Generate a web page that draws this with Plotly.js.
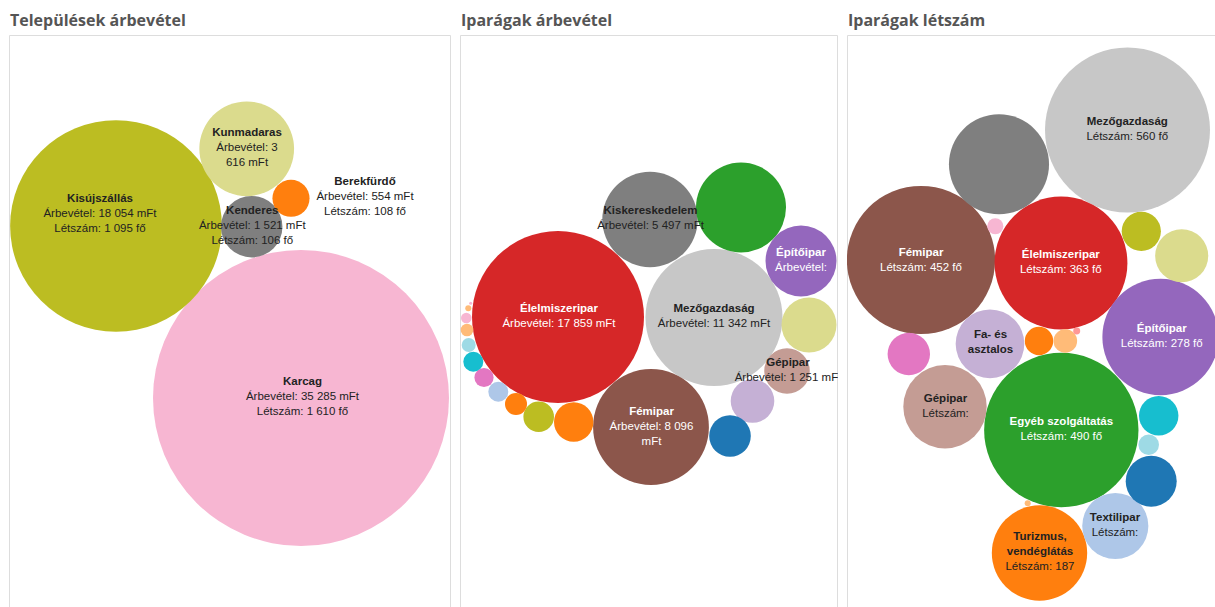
<!DOCTYPE html>
<html>
<head>
<meta charset="utf-8">
<script src="https://cdn.plot.ly/plotly-3.0.1.min.js"></script>
<style>
html,body{margin:0;padding:0;background:#fff;}
#chart{width:1215px;height:607px;}
</style>
</head>
<body>
<div id="chart"></div>
<script>
// ---------- Panel 1: Települések árbevétel (mFt) ----------
const townNames  = ['Karcag','Kisújszállás','Kunmadaras','Kenderes','Berekfürdő'];
const townRevenue = [35285, 18054, 3616, 1521, 554];
const townStaff   = [1610, 1095, null, 106, 108];
const townX = [301, 116, 246.7, 251.7, 291];
const townY = [398, 226, 148.8, 226.7, 198.3];
const townColors = ['#f7b6d2','#bcbd22','#dbdb8d','#7f7f7f','#ff7f0e'];
const townLabels = [
  '<b>Karcag</b><br>Árbevétel: 35 285 mFt<br>Létszám: 1 610 fő',
  '<b>Kisújszállás</b><br>Árbevétel: 18 054 mFt<br>Létszám: 1 095 fő',
  '<b>Kunmadaras</b><br>Árbevétel: 3<br>616 mFt',
  '<b>Kenderes</b><br>Árbevétel: 1 521 mFt<br>Létszám: 106 fő',
  '<b>Berekfürdő</b><br>Árbevétel: 554 mFt<br>Létszám: 108 fő'
];
const townLabelX = [302.5, 100, 247, 252.3, 365];
const townLabelY = [397.5, 214.3, 148, 226, 197.3];
const townLabelColors = ['#222','#222','#222','#222','#222'];

// ---------- Panel 2: Iparágak árbevétel (mFt) ----------
const indRevNames = ['Élelmiszeripar','Mezőgazdaság','Fémipar','Kiskereskedelem','Egyéb szolgáltatás','Építőipar','','Gépipar','Fa- és asztalos','','','','','Textilipar','','','','','','',''];
const indRevenue = [17859, 11342, 8096, 5497, 4890, 3043, 1826, 1251, 1148, 1044, 937, 565, 292, 241, 223, 241, 118, 96, 68, 22, 5.5];
const indRevX = [558, 714, 651, 650, 741, 801, 809, 787, 752.5, 730, 573.7, 538.7, 516, 498.3, 484, 473.3, 468.7, 467, 466.3, 468.3, 470.7];
const indRevY = [317, 317.5, 427, 219.5, 207.5, 261, 325, 371, 401, 436, 422, 416.7, 404, 391.7, 377.5, 361.7, 345, 330, 318, 308.3, 303.3];
const indRevColors = ['#d62728','#c7c7c7','#8c564b','#7f7f7f','#2ca02c','#9467bd','#dbdb8d','#c49c94','#c5b0d5','#1f77b4','#ff7f0e','#bcbd22','#ff7f0e','#aec7e8','#e377c2','#17becf','#9edae5','#ffbb78','#f7b6d2','#ffbb78','#f7b6d2'];
const indRevLabels = [
  '<b>Élelmiszeripar</b><br>Árbevétel: 17 859 mFt',
  '<b>Mezőgazdaság</b><br>Árbevétel: 11 342 mFt',
  '<b>Fémipar</b><br>Árbevétel: 8 096<br>mFt',
  '<b>Kiskereskedelem</b><br>Árbevétel: 5 497 mFt',
  '<b>Építőipar</b><br>Árbevétel:',
  '<b>Gépipar</b><br>Árbevétel: 1 251 mFt'
];
const indRevLabelX = [559, 714, 651.5, 650.5, 801, 788];
const indRevLabelY = [316.7, 317, 427, 218.5, 261, 370.5];
const indRevLabelColors = ['#fff','#222','#fff','#222','#fff','#222'];

// ---------- Panel 3: Iparágak létszám (fő) ----------
const indStaffNames = ['Mezőgazdaság','Egyéb szolgáltatás','Fémipar','Élelmiszeripar','Építőipar','Kiskereskedelem','Turizmus, vendéglátás','Gépipar','Fa- és asztalos','Textilipar','','','','','','','','','','',''];
const indStaff = [560, 490, 452, 363, 278, 206, 187, 143, 97, 90, 58, 53.5, 37, 32, 31.6, 16.6, 11.5, 8.7, 5.3, 1.0, 0.75];
const indStaffX = [1127.5, 1061.3, 921, 1061, 1160.5, 999, 1039.5, 945, 990, 1115.3, 1181.7, 1151.2, 908.8, 1158.7, 1141.3, 1039, 1065.3, 1148.7, 995.3, 1076.7, 1027.7];
const indStaffY = [130, 430, 260, 263, 337, 164.3, 553, 406.7, 343.8, 526, 255.8, 481.2, 354, 415.7, 231.3, 341, 341, 444.7, 226.3, 331, 503.3];
const indStaffColors = ['#c7c7c7','#2ca02c','#8c564b','#d62728','#9467bd','#7f7f7f','#ff7f0e','#c49c94','#c5b0d5','#aec7e8','#dbdb8d','#1f77b4','#e377c2','#17becf','#bcbd22','#ff7f0e','#ffbb78','#9edae5','#f7b6d2','#ff9896','#ffbb78'];
const indStaffLabels = [
  '<b>Mezőgazdaság</b><br>Létszám: 560 fő',
  '<b>Egyéb szolgáltatás</b><br>Létszám: 490 fő',
  '<b>Fémipar</b><br>Létszám: 452 fő',
  '<b>Élelmiszeripar</b><br>Létszám: 363 fő',
  '<b>Építőipar</b><br>Létszám: 278 fő',
  '<b>Turizmus,<br>vendéglátás</b><br>Létszám: 187',
  '<b>Gépipar</b><br>Létszám:',
  '<b>Fa- és<br>asztalos</b>',
  '<b>Textilipar</b><br>Létszám:'
];
const indStaffLabelX = [1127.3, 1061.3, 921, 1060.8, 1161.7, 1040, 945.5, 990.5, 1115];
const indStaffLabelY = [130, 429.7, 260.3, 263, 337, 552, 406.7, 343, 525.5];
const indStaffLabelColors = ['#222','#fff','#fff','#fff','#fff','#222','#222','#222','#222'];

const panelTitles = ['Települések árbevétel','Iparágak árbevétel','Iparágak létszám'];

// ---------- drawing ----------
const W = 1215, H = 607;
const boxTop = 35;
const boxes = [[9, 451], [460, 838], [847, 1215]];
const maxRadius = [148, 86, 82.5];
const labelFont = 'Liberation Sans, Arial, sans-serif';

function diam(vals, rmax) {
  const vmax = Math.max.apply(null, vals);
  return vals.map(v => 2 * rmax * Math.sqrt(v / vmax));
}

function bubbleTrace(names, vals, xs, ys, cols, rmax, ax) {
  return {
    type: 'scatter', mode: 'markers', x: xs, y: ys, text: names,
    xaxis: 'x' + ax, yaxis: 'y' + ax, hoverinfo: 'skip', showlegend: false,
    marker: { size: diam(vals, rmax), sizemode: 'diameter', color: cols, opacity: 1, line: { width: 0 } }
  };
}
function labelTrace(txt, xs, ys, cols, ax) {
  return {
    type: 'scatter', mode: 'text', x: xs, y: ys, text: txt,
    textposition: 'middle center', cliponaxis: true,
    xaxis: 'x' + ax, yaxis: 'y' + ax, hoverinfo: 'skip', showlegend: false,
    textfont: { family: labelFont, size: 11.5, color: cols }
  };
}

const data = [
  bubbleTrace(townNames, townRevenue, townX, townY, townColors, maxRadius[0], ''),
  labelTrace(townLabels, townLabelX, townLabelY, townLabelColors, ''),
  bubbleTrace(indRevNames, indRevenue, indRevX, indRevY, indRevColors, maxRadius[1], '2'),
  labelTrace(indRevLabels, indRevLabelX, indRevLabelY, indRevLabelColors, '2'),
  bubbleTrace(indStaffNames, indStaff, indStaffX, indStaffY, indStaffColors, maxRadius[2], '3'),
  labelTrace(indStaffLabels, indStaffLabelX, indStaffLabelY, indStaffLabelColors, '3')
];

const hidden = { showgrid: false, zeroline: false, showticklabels: false, ticks: '', showline: false, fixedrange: true };
const layout = {
  width: W, height: H,
  margin: { l: 0, r: 0, t: 0, b: 0 },
  paper_bgcolor: '#fff', plot_bgcolor: 'rgba(0,0,0,0)',
  showlegend: false, hovermode: false,
  shapes: [], annotations: []
};
boxes.forEach((b, i) => {
  const s = i === 0 ? '' : String(i + 1);
  const xd = [b[0] / W, Math.min(1, b[1] / W)];
  layout['xaxis' + s] = Object.assign({}, hidden, { domain: xd, range: [b[0], Math.min(W, b[1])], anchor: 'y' + s, autorange: false });
  layout['yaxis' + s] = Object.assign({}, hidden, { domain: [0, 1 - boxTop / H], range: [H, boxTop], anchor: 'x' + s, autorange: false });
  layout.shapes.push({
    type: 'rect', xref: 'paper', yref: 'paper', layer: 'below',
    x0: (b[0] + 0.5) / W, x1: i === 2 ? 1.05 : (b[1] - 0.5) / W,
    y0: -0.1, y1: 1 - (boxTop + 0.5) / H,
    line: { color: '#dddddd', width: 1 }, fillcolor: 'rgba(0,0,0,0)'
  });
  layout.annotations.push({
    text: '<b>' + panelTitles[i] + '</b>', xref: 'paper', yref: 'paper',
    x: (b[0] - 1.5) / W, y: 1 - 20 / H, xanchor: 'left', yanchor: 'middle',
    showarrow: false, font: { family: 'Open Sans, sans-serif', size: 16, color: '#555555' }
  });
});

Plotly.newPlot('chart', data, layout, { staticPlot: true, displayModeBar: false });
</script>
</body>
</html>
